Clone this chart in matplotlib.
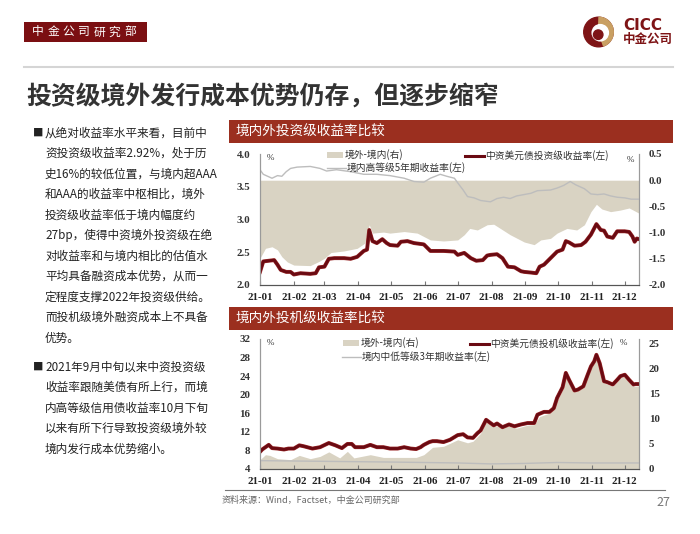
import numpy as np
import pandas as pd
import matplotlib
matplotlib.use("Agg")
from matplotlib import pyplot as plt
from matplotlib.patches import Rectangle, Circle, Wedge
from matplotlib.lines import Line2D
import matplotlib.patheffects as pe

plt.rcParams['font.family'] = ['Noto Sans CJK SC', 'DejaVu Sans']

W, H = 700, 534

# ---- chart 1: investment grade ----
ig_usd_dates = ["01-01", "01-04", "01-09", "01-14", "01-17", "01-20", "01-25", "01-29", "02-01", "02-07",
                "02-16", "02-21", "02-24", "03-01", "03-05", "03-10", "03-19", "03-25", "03-31", "04-06",
                "04-09", "04-11", "04-14", "04-18", "04-23", "04-27", "04-30", "05-07", "05-10", "05-16",
                "05-22", "05-31", "06-06", "06-12", "06-18", "06-28", "07-01", "07-07", "07-13", "07-18",
                "07-24", "07-28", "07-31", "08-06", "08-11", "08-16", "08-22", "08-28", "08-31", "09-06",
                "09-11", "09-14", "09-18", "09-24", "09-30", "10-05", "10-08", "10-11", "10-16", "10-22",
                "10-26", "10-31", "11-05", "11-09", "11-12", "11-15", "11-20", "11-24", "12-01", "12-05",
                "12-08", "12-10", "12-12", "12-14"]
ig_usd = [2.20, 2.36, 2.37, 2.38, 2.31, 2.23, 2.20, 2.20, 2.16, 2.18,
          2.17, 2.18, 2.27, 2.28, 2.40, 2.41, 2.41, 2.40, 2.43, 2.52,
          2.54, 2.84, 2.67, 2.64, 2.70, 2.64, 2.61, 2.60, 2.66, 2.67,
          2.64, 2.62, 2.52, 2.52, 2.52, 2.51, 2.46, 2.49, 2.41, 2.37,
          2.38, 2.45, 2.46, 2.47, 2.41, 2.28, 2.27, 2.21, 2.20, 2.19,
          2.18, 2.28, 2.31, 2.41, 2.51, 2.54, 2.67, 2.65, 2.60, 2.61,
          2.66, 2.77, 2.93, 2.84, 2.83, 2.74, 2.72, 2.82, 2.82, 2.81,
          2.74, 2.66, 2.71, 2.70]

ig_dom_dates = ["01-01", "01-04", "01-12", "01-17", "01-21", "01-25", "01-29", "02-04", "02-16", "02-25",
                "03-03", "03-12", "03-25", "04-06", "04-18", "04-30", "05-13", "05-22", "05-31", "06-06",
                "06-15", "06-21", "06-28", "07-01", "07-06", "07-10", "07-16", "07-22", "07-31", "08-06",
                "08-12", "08-18", "08-24", "09-06", "09-12", "09-24", "09-30", "10-06", "10-12", "10-17",
                "10-25", "10-31", "11-06", "11-12", "11-18", "11-24", "12-01", "12-07", "12-14"]
ig_dom = [3.76, 3.69, 3.63, 3.67, 3.66, 3.73, 3.78, 3.80, 3.81, 3.78,
          3.74, 3.76, 3.73, 3.69, 3.69, 3.67, 3.63, 3.58, 3.57, 3.63,
          3.69, 3.66, 3.63, 3.56, 3.45, 3.35, 3.33, 3.29, 3.27, 3.32,
          3.34, 3.32, 3.36, 3.40, 3.44, 3.45, 3.48, 3.52, 3.58, 3.53,
          3.47, 3.39, 3.38, 3.39, 3.36, 3.34, 3.33, 3.31, 3.31]

ig_spread_dates = ["01-01", "01-06", "01-12", "01-17", "01-21", "01-26", "02-01", "02-16", "02-24", "03-01",
                   "03-07", "03-19", "03-31", "04-07", "04-11", "04-14", "04-24", "04-30", "05-13", "05-25",
                   "06-06", "06-18", "07-01", "07-07", "07-12", "07-19", "07-28", "08-03", "08-09", "08-18",
                   "08-31", "09-09", "09-15", "09-24", "09-30", "10-09", "10-18", "10-25", "10-31", "11-05",
                   "11-10", "11-18", "11-27", "12-05", "12-14"]
ig_spread = [-1.49, -1.30, -1.27, -1.33, -1.46, -1.56, -1.62, -1.63, -1.55, -1.49,
             -1.38, -1.35, -1.30, -1.20, -0.85, -1.01, -0.99, -1.01, -0.98, -1.01,
             -1.14, -1.16, -1.14, -1.04, -0.92, -0.95, -0.85, -0.84, -0.92, -1.04,
             -1.18, -1.23, -1.14, -1.11, -1.01, -0.92, -0.95, -0.85, -0.60, -0.46,
             -0.55, -0.60, -0.57, -0.53, -0.63]

# ---- chart 2: high yield ----
hy_usd_dates = ["01-01", "01-03", "01-06", "01-09", "01-12", "01-17", "01-23", "01-27", "02-01", "02-06",
                "02-10", "02-18", "02-25", "03-05", "03-11", "03-17", "03-22", "03-26", "03-29", "04-06",
                "04-12", "04-18", "04-24", "04-30", "05-07", "05-13", "05-19", "05-24", "05-28", "05-31",
                "06-05", "06-08", "06-12", "06-18", "06-24", "07-01", "07-06", "07-10", "07-15", "07-19",
                "07-22", "07-27", "07-31", "08-03", "08-06", "08-11", "08-17", "08-22", "08-28", "09-03",
                "09-09", "09-12", "09-18", "09-23", "09-27", "09-30", "10-05", "10-08", "10-11", "10-16",
                "10-19", "10-24", "10-28", "10-31", "11-03", "11-05", "11-08", "11-12", "11-15", "11-20",
                "11-24", "11-27", "12-01", "12-05", "12-09", "12-11", "12-14"]
hy_usd = [7.7, 8.2, 8.7, 9.2, 8.5, 8.4, 8.2, 8.4, 8.4, 9.1,
          8.9, 8.4, 8.7, 9.6, 9.1, 8.5, 9.4, 9.4, 8.7, 8.7,
          9.2, 8.7, 8.7, 8.4, 8.4, 8.7, 8.4, 8.3, 8.7, 9.2,
          9.8, 10.0, 10.0, 9.8, 10.3, 11.3, 11.5, 10.8, 10.7, 11.7,
          12.3, 14.6, 13.9, 13.4, 13.8, 13.0, 13.6, 13.2, 13.6, 13.9,
          13.9, 15.7, 16.3, 16.3, 17.1, 19.3, 21.6, 24.7, 23.2, 20.9,
          21.1, 21.8, 24.3, 26.1, 27.2, 28.6, 26.8, 22.9, 22.7, 22.2,
          23.2, 24.0, 24.3, 23.2, 22.2, 22.3, 22.3]

hy_dom_dates = ["01-01", "03-01", "04-30", "07-01", "07-31", "08-31", "09-30", "10-31", "12-14"]
hy_dom = [5.8, 5.65, 5.5, 5.3, 5.1, 5.2, 5.4, 5.3, 5.3]

hy_spread_dates = ["01-01", "01-06", "01-10", "01-17", "01-29", "02-06", "02-16", "02-25", "03-05", "03-15",
                   "03-22", "03-28", "04-12", "04-24", "05-10", "05-24", "05-31", "06-08", "06-18", "07-01",
                   "07-10", "07-15", "07-22", "07-27", "07-31", "08-06", "08-17", "08-24", "09-03", "09-09",
                   "09-14", "09-23", "09-30", "10-05", "10-08", "10-11", "10-16", "10-24", "10-28", "10-31",
                   "11-05", "11-08", "11-12", "11-20", "11-27", "12-01", "12-05", "12-09", "12-14"]
hy_spread = [1.85, 2.84, 2.7, 2.05, 1.85, 2.7, 2.05, 2.5, 3.4, 2.2,
             3.5, 2.2, 2.84, 2.3, 2.3, 2.3, 2.84, 4.3, 4.5, 5.8,
             5.2, 5.5, 7.1, 9.5, 8.7, 8.5, 8.5, 8.1, 8.7, 8.8,
             10.4, 11.1, 13.6, 15.7, 18.7, 17.4, 15.3, 16.1, 18.4, 20.0,
             22.4, 20.7, 17.1, 16.4, 18.1, 18.4, 17.4, 16.4, 16.5]

month_ticks = ["21-01", "21-02", "21-03", "21-04", "21-05", "21-06",
               "21-07", "21-08", "21-09", "21-10", "21-11", "21-12"]

bullet1 = ["从绝对收益率水平来看，目前中",
           "资投资级收益率2.92%，处于历",
           "史16%的较低位置，与境内超AAA",
           "和AAA的收益率中枢相比，境外",
           "投资级收益率低于境内幅度约",
           "27bp，使得中资境外投资级在绝",
           "对收益率和与境内相比的估值水",
           "平均具备融资成本优势，从而一",
           "定程度支撑2022年投资级供给。",
           "而投机级境外融资成本上不具备",
           "优势。"]
bullet2 = ["2021年9月中旬以来中资投资级",
           "收益率跟随美债有所上行，而境",
           "内高等级信用债收益率10月下旬",
           "以来有所下行导致投资级境外较",
           "境内发行成本优势缩小。"]


def d(lst):
    return pd.to_datetime(["2021-" + s for s in lst])


def fx(x):
    return x / W


def fy(y):
    return 1 - y / H


RED = "#6A0A12"
FILL = "#D9D3C3"
GRAY = "#BDBDBD"
BAR = "#9B2F1F"
DARK = "#7B0F12"
SERIF = "Liberation Serif"

fig = plt.figure(figsize=(W / 100, H / 100), dpi=100)

# header
fig.add_artist(Rectangle((fx(24), fy(42)), (147 - 24) / W, 20 / H, transform=fig.transFigure,
                         color=DARK, lw=0))
for i, ch in enumerate("中金公司研究部"):
    fig.text(fx(38 + i * 15.3), fy(32), ch, color="white", fontsize=8.5, ha="center", va="center")

# logo
axl = fig.add_axes([fx(583), fy(48), 31 / W, 32 / H])
axl.set_xlim(-1.05, 1.05)
axl.set_ylim(-1.08, 1.08)
axl.axis("off")
axl.add_patch(Circle((0, 0), 1, color="#7E1416"))
axl.add_patch(Wedge((0, 0), 1, -70, 88, color="#C9A063"))
axl.add_patch(Circle((0.12, -0.05), 0.55, color="white"))
axl.add_patch(Circle((-0.02, -0.18), 0.32, color="#7E1416"))
fig.text(fx(623), fy(26), "CICC", color="#7E1416", fontsize=11, fontweight="bold",
         family="DejaVu Sans", va="center", ha="left")
fig.text(fx(623), fy(39.5), "中金公司", color="#7E1416", fontsize=9, fontweight="bold",
         va="center", ha="left")

fig.add_artist(Line2D([fx(24), fx(673)], [fy(67), fy(67)], transform=fig.transFigure,
                      color="#D5D5D5", lw=1.5))
fig.text(fx(26), fy(96), "投资级境外发行成本优势仍存，但逐步缩窄", fontsize=17.9,
         fontweight="bold", color="#333333", va="center", ha="left")

# left text
for i, line in enumerate(bullet1):
    fig.text(fx(45), fy(133 + i * 20.5), line, fontsize=8.4, color="#222222", va="center")
fig.text(fx(33), fy(133), "■", fontsize=7.5, color="#222222", va="center")
for i, line in enumerate(bullet2):
    fig.text(fx(45), fy(367 + i * 20.5), line, fontsize=8.4, color="#222222", va="center")
fig.text(fx(33), fy(367), "■", fontsize=7.5, color="#222222", va="center")

# chart header bars
for top, title in [(120, "境内外投资级收益率比较"), (307, "境内外投机级收益率比较")]:
    fig.add_artist(Rectangle((fx(229), fy(top + 23)), 444 / W, 23 / H, transform=fig.transFigure,
                             color=BAR, lw=0))
    fig.text(fx(236), fy(top + 11.5), title, color="white", fontsize=9.8, va="center")


def style_axes(ax, axr):
    ax.set_zorder(axr.get_zorder() + 1)
    ax.patch.set_visible(False)
    for a in (ax, axr):
        a.spines["top"].set_visible(False)
        a.spines["left"].set_color("#9A9A9A")
        a.spines["right"].set_color("#9A9A9A")
        a.spines["bottom"].set_color("#555555")
        a.tick_params(axis="y", length=0, labelsize=7.8, labelcolor="#333333", pad=7)
    ax.tick_params(axis="x", direction="in", length=3, color="#777777", labelsize=7.8,
                   labelcolor="#222222", pad=6)
    axr.tick_params(axis="x", length=0)
    for lab in ax.get_xticklabels() + ax.get_yticklabels() + axr.get_yticklabels():
        lab.set_fontfamily(SERIF)
        lab.set_fontweight("bold")
    ax.set_xlim(pd.Timestamp("2021-01-01"), pd.Timestamp("2021-12-14"))


def red_line(ax, x, y):
    ax.plot(x, y, color=RED, lw=2.0,
            path_effects=[pe.Stroke(linewidth=2.8, foreground="#9B2A2A"), pe.Normal()])


month_pos = pd.to_datetime(["20" + m + "-01" for m in month_ticks])

# chart 1
ax1 = fig.add_axes([fx(260), fy(285), 379 / W, 131 / H])
ax1r = ax1.twinx()
ax1r.fill_between(d(ig_spread_dates), 0, ig_spread, color=FILL, lw=0)
ax1r.set_ylim(-2.0, 0.5)
ax1r.set_yticks(np.arange(-2.0, 0.51, 0.5))
ax1r.set_yticklabels([f"{v:.1f}" for v in np.arange(-2.0, 0.51, 0.5)])
ax1.plot(d(ig_dom_dates), ig_dom, color=GRAY, lw=1.0)
red_line(ax1, d(ig_usd_dates), ig_usd)
ax1.set_ylim(2.0, 4.0)
ax1.set_yticks(np.arange(2.0, 4.01, 0.5))
ax1.set_yticklabels([f"{v:.1f}" for v in np.arange(2.0, 4.01, 0.5)])
ax1.set_xticks(month_pos)
ax1.set_xticklabels(month_ticks)
style_axes(ax1, ax1r)

# chart 2
ax2 = fig.add_axes([fx(260), fy(469), 379 / W, 130 / H])
ax2r = ax2.twinx()
ax2r.fill_between(d(hy_spread_dates), 0, hy_spread, color=FILL, lw=0)
ax2r.set_ylim(0, 25.8)
ax2r.set_yticks(np.arange(0, 26, 5))
ax2.plot(d(hy_dom_dates), hy_dom, color=GRAY, lw=1.0)
red_line(ax2, d(hy_usd_dates), hy_usd)
ax2.set_ylim(4, 32)
ax2.set_yticks(np.arange(4, 33, 4))
ax2.set_xticks(month_pos)
ax2.set_xticklabels(month_ticks)
style_axes(ax2, ax2r)

# percent signs
for x, y in [(270, 158), (630, 160), (270, 343), (623, 343)]:
    fig.text(fx(x), fy(y), "%", fontsize=6.5, family=SERIF, color="#333333", ha="center", va="center")

# legends
LEG = 7


def leg_patch(x, y, label):
    fig.add_artist(Rectangle((fx(x), fy(y + 3)), 16 / W, 6 / H, transform=fig.transFigure,
                             color=FILL, lw=0))
    fig.text(fx(x + 18), fy(y), label, fontsize=LEG, color="#333333", va="center")


def leg_line(x, y, label, color, lw):
    fig.add_artist(Line2D([fx(x), fx(x + 19)], [fy(y), fy(y)], transform=fig.transFigure,
                          color=color, lw=lw))
    fig.text(fx(x + 20), fy(y), label, fontsize=LEG, color="#333333", va="center")


leg_patch(327, 155, "境外-境内(右)")
leg_line(327, 168, "境内高等级5年期收益率(左)", GRAY, 1.0)
leg_line(465, 156, "中资美元债投资级收益率(左)", RED, 2.2)
leg_patch(343, 343, "境外-境内(右)")
leg_line(342, 357, "境内中低等级3年期收益率(左)", GRAY, 1.0)
leg_line(470, 344, "中资美元债投机级收益率(左)", RED, 2.2)

# footer
fig.add_artist(Line2D([fx(225), fx(665)], [fy(490), fy(490)], transform=fig.transFigure,
                      color="#777777", lw=0.8))
fig.text(fx(222), fy(500), "资料来源：Wind，Factset，中金公司研究部", fontsize=6.5,
         color="#666666", va="center")
fig.text(fx(670), fy(503), "27", fontsize=9, color="#777777", va="center", ha="right")

fig.savefig("out.png", dpi=100)
